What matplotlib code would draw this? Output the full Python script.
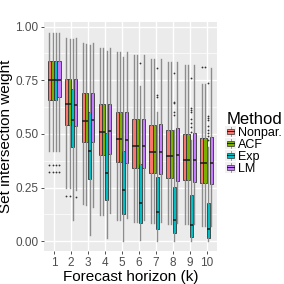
import numpy as np
import matplotlib
matplotlib.use('Agg')
import matplotlib.pyplot as plt
from matplotlib.patches import Patch, Rectangle
from matplotlib.lines import Line2D
from matplotlib.legend_handler import HandlerBase

plt.rcParams['font.family'] = ['Liberation Sans', 'DejaVu Sans']

horizons = [1, 2, 3, 4, 5, 6, 7, 8, 9, 10]
methods  = ['Nonpar.', 'ACF', 'Exp', 'LM']
colors   = ['#F8766D', '#7CAE00', '#00BFC4', '#C77CFF']

# box stats per method, one value per horizon
nonpar_lo  = [0.42, 0.25, 0.175, 0.12, 0.10, 0.09, 0.085, 0.08, 0.08, 0.07]
nonpar_q1  = [0.66, 0.54, 0.46, 0.40, 0.368, 0.34, 0.317, 0.296, 0.286, 0.27]
nonpar_med = [0.75, 0.638, 0.562, 0.51, 0.475, 0.444, 0.416, 0.397, 0.379, 0.366]
nonpar_q3  = [0.84, 0.755, 0.69, 0.638, 0.604, 0.571, 0.542, 0.519, 0.50, 0.48]
nonpar_hi  = [0.97, 0.945, 0.922, 0.90, 0.88, 0.865, 0.849, 0.834, 0.82, 0.733]

acf_lo  = [0.42, 0.25, 0.17, 0.12, 0.10, 0.09, 0.085, 0.08, 0.08, 0.07]
acf_q1  = [0.66, 0.54, 0.46, 0.40, 0.368, 0.34, 0.317, 0.296, 0.286, 0.27]
acf_med = [0.75, 0.638, 0.562, 0.51, 0.475, 0.444, 0.416, 0.397, 0.379, 0.366]
acf_q3  = [0.84, 0.755, 0.69, 0.638, 0.604, 0.571, 0.542, 0.519, 0.50, 0.48]
acf_hi  = [0.97, 0.94, 0.92, 0.90, 0.88, 0.865, 0.849, 0.834, 0.82, 0.733]

exp_lo  = [0.42, 0.10, 0.03, 0.014, 0.003, 0.006, 0.0, 0.0, 0.0, 0.0]
exp_q1  = [0.66, 0.44, 0.29, 0.19, 0.126, 0.084, 0.056, 0.037, 0.02, 0.014]
exp_med = [0.75, 0.565, 0.42, 0.318, 0.238, 0.18, 0.137, 0.10, 0.075, 0.057]
exp_q3  = [0.84, 0.711, 0.60, 0.503, 0.42, 0.359, 0.30, 0.252, 0.213, 0.18]
exp_hi  = [0.97, 0.94, 0.915, 0.885, 0.857, 0.725, 0.60, 0.52, 0.47, 0.44]

lm_lo  = [0.42, 0.24, 0.158, 0.13, 0.11, 0.10, 0.09, 0.085, 0.08, 0.07]
lm_q1  = [0.67, 0.537, 0.46, 0.407, 0.365, 0.34, 0.314, 0.28, 0.278, 0.266]
lm_med = [0.75, 0.634, 0.563, 0.513, 0.47, 0.444, 0.416, 0.40, 0.38, 0.363]
lm_q3  = [0.84, 0.755, 0.69, 0.64, 0.604, 0.571, 0.545, 0.527, 0.505, 0.485]
lm_hi  = [0.97, 0.945, 0.922, 0.90, 0.88, 0.865, 0.849, 0.834, 0.82, 0.806]

# outliers: (method index, horizon) -> values
outliers = {
  (0, 1): [0.357, 0.32], (1, 1): [0.357, 0.32], (2, 1): [0.357, 0.32], (3, 1): [0.357, 0.32],
  (0, 2): [0.21], (1, 2): [0.21], (3, 2): [0.205],
  (2, 6): [0.832],
  (2, 7): [0.806, 0.68, 0.67],
  (2, 8): [0.783, 0.65, 0.643, 0.60, 0.59],
  (2, 9): [0.76, 0.62, 0.61, 0.60, 0.57, 0.55, 0.53, 0.51],
  (0, 10): [0.81], (1, 10): [0.81],
  (2, 10): [0.736, 0.584, 0.575, 0.565, 0.537, 0.52, 0.505, 0.49, 0.47],
}

all_stats = [
  (nonpar_lo, nonpar_q1, nonpar_med, nonpar_q3, nonpar_hi),
  (acf_lo, acf_q1, acf_med, acf_q3, acf_hi),
  (exp_lo, exp_q1, exp_med, exp_q3, exp_hi),
  (lm_lo, lm_q1, lm_med, lm_q3, lm_hi),
]


class BoxKey(HandlerBase):
  # small boxplot glyph like ggplot's legend key
  def create_artists(self, legend, orig_handle, xdescent, ydescent, width, height, fontsize, trans):
    x0, y0 = -xdescent, -ydescent
    xm = x0 + width / 2
    bg = Rectangle((x0 - 1, y0 - 1), width + 2, height + 2, facecolor='#F2F2F2',
                   edgecolor='none', transform=trans)
    wl = Line2D([xm, xm], [y0, y0 + 0.25 * height], color='#8C8C8C', lw=0.6, transform=trans)
    wh = Line2D([xm, xm], [y0 + 0.75 * height, y0 + height], color='#8C8C8C', lw=0.6, transform=trans)
    box = Rectangle((x0, y0 + 0.25 * height), width, 0.5 * height,
                    facecolor=orig_handle.get_facecolor(), edgecolor='#333333', lw=0.5,
                    transform=trans)
    med = Line2D([x0, x0 + width], [y0 + height / 2] * 2, color='#1A1A1A', lw=0.7, transform=trans)
    return [bg, wl, wh, box, med]


fig = plt.figure(figsize=(2.84, 2.84), dpi=100)
ax = fig.add_axes([0.155, 0.1145, 0.608, 0.808])
ax.set_facecolor('#EBEBEB')
for s in ax.spines.values():
  s.set_visible(False)

bw = 0.75 / 4
for mi, (lo, q1, med, q3, hi) in enumerate(all_stats):
  stats = []
  for i, k in enumerate(horizons):
    stats.append({'whislo': lo[i], 'q1': q1[i], 'med': med[i], 'q3': q3[i],
                  'whishi': hi[i], 'fliers': outliers.get((mi, k), [])})
  pos = [k + (mi - 1.5) * bw for k in horizons]
  ax.bxp(stats, positions=pos, widths=bw, showcaps=False, patch_artist=True,
         boxprops=dict(facecolor=colors[mi], edgecolor='#333333', linewidth=0.6),
         whiskerprops=dict(color='#8C8C8C', linewidth=1.0),
         medianprops=dict(color='#1A1A1A', linewidth=1.1),
         flierprops=dict(marker='o', markersize=1.3, markerfacecolor='#333333',
                         markeredgecolor='none'),
         zorder=3, manage_ticks=False)

ax.set_xlim(0.4, 10.6)
ax.set_ylim(-0.048, 1.021)
ax.set_xticks(horizons)
ax.set_xticklabels([str(k) for k in horizons])
ax.set_yticks([0, 0.25, 0.5, 0.75, 1.0])
ax.set_yticklabels(['0.00', '0.25', '0.50', '0.75', '1.00'])
ax.set_yticks([0.125, 0.375, 0.625, 0.875], minor=True)
ax.grid(True, which='major', color='white', linewidth=1.0, zorder=0)
ax.grid(True, which='minor', axis='y', color='white', linewidth=0.5, zorder=0)
ax.set_axisbelow(True)
ax.tick_params(axis='both', which='major', length=2.5, width=0.6, color='#333333',
               labelcolor='#4D4D4D', labelsize=8.5, pad=1.5)
ax.tick_params(axis='y', which='minor', length=0)

ax.set_xlabel('Forecast horizon (k)', fontsize=11, labelpad=1)
ax.set_ylabel('Set intersection weight', fontsize=11, labelpad=2)

handles = [Patch(facecolor=c) for c in colors]
leg = fig.legend(handles, methods, title='Method', loc='upper left',
                 bbox_to_anchor=(0.768, 0.637), frameon=False, fontsize=9,
                 title_fontsize=12, handlelength=0.6, handleheight=0.7,
                 handletextpad=0.3, labelspacing=0.0, borderpad=0.2,
                 handler_map={Patch: BoxKey()})
leg._legend_box.align = 'left'
leg._legend_box.sep = 0

fig.savefig('out.png', dpi=100)
